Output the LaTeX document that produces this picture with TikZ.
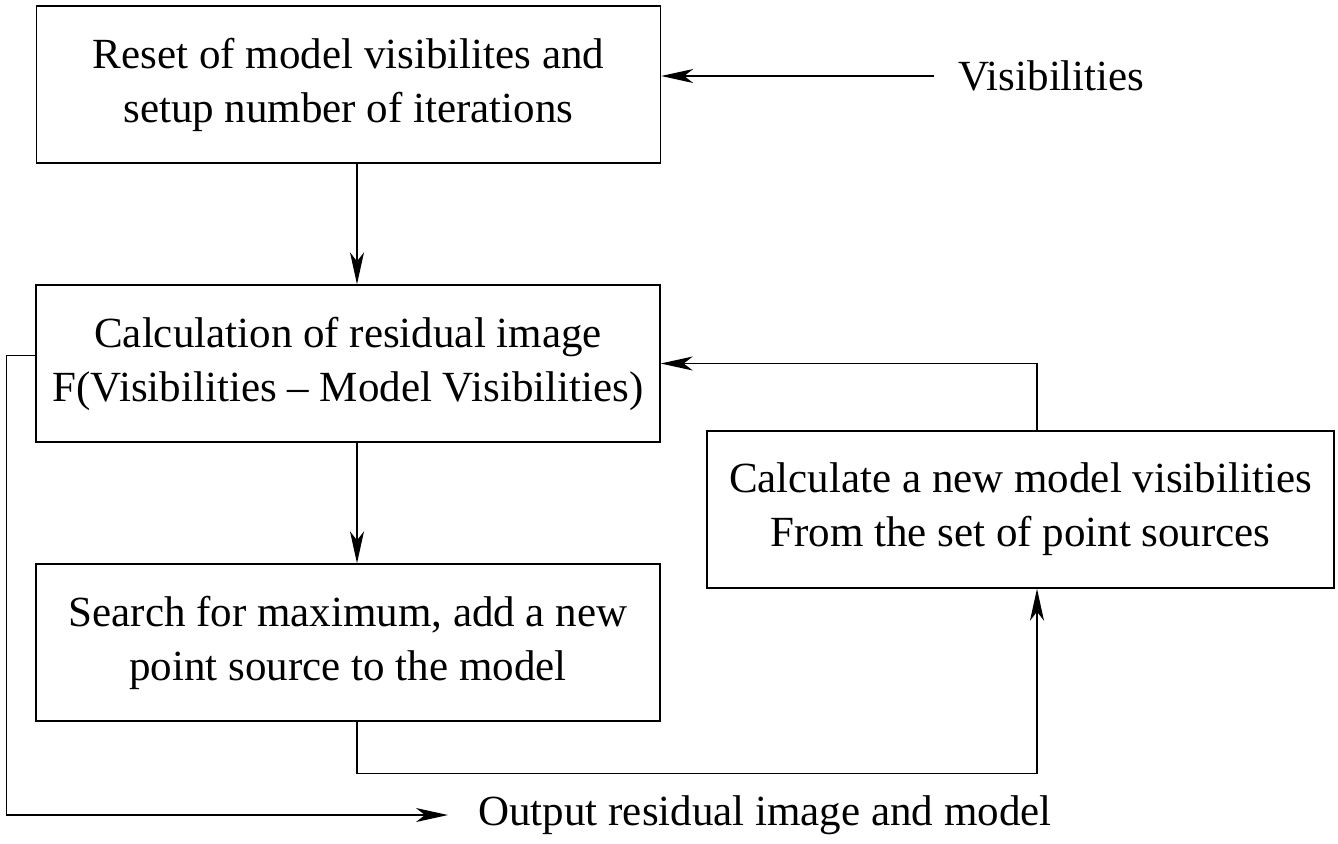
\documentclass[tikz,border=0pt]{standalone}
\usepackage{fontspec}
\setmainfont{Liberation Serif}
\usetikzlibrary{arrows.meta, positioning}
\tikzset{box/.style={draw, line width=.7pt, minimum width=312pt, minimum height=78.5pt, align=center, inner sep=0pt},
  arr/.style={-{Stealth[length=16pt, width=7pt, inset=4.5pt]}, line width=.7pt}}
\begin{document}
\begin{tikzpicture}[x=.5pt, y=-.5pt, font=\fontsize{21.5}{27}\selectfont]
\useasboundingbox (0,0) rectangle (1338,843);
\coordinate (spine) at (357,0);
\coordinate (fb) at (1037,0);
\node[box] (reset) at (348.5,84.5) {Reset of model visibilites and\\setup number of iterations};
\node[box] (resid) at (348,363.5) {Calculation of residual image\\F(Visibilities -- Model Visibilities)};
\node[box] (search) at (348,642.5) {Search for maximum, add a new\\point source to the model};
\node[box, minimum width=313.5pt] (calc) at (1020.5,509.5) {Calculate a new model visibilities\\From the set of point sources};
\node[anchor=west, inner sep=0pt] (vis) at (958,76) {Visibilities};
\node[anchor=west, inner sep=0pt] (out) at (478,815) {Output residual image and model};
\draw[arr] ([xshift=-12pt]vis.west) -- (vis.west -| reset.east);
\draw[arr] (reset.south -| spine) -- (resid.north -| spine);
\draw[arr] (resid.south -| spine) -- (search.north -| spine);
\draw[arr] (search.south -| spine) -- ++(0,52) -| (calc.south -| fb);
\draw[arr] (calc.north -| fb) |- (resid.east);
\draw[arr] ([yshift=4pt]resid.west) -- ++(-29,0) |- ([xshift=-15pt]out.west);
\end{tikzpicture}
\end{document}
